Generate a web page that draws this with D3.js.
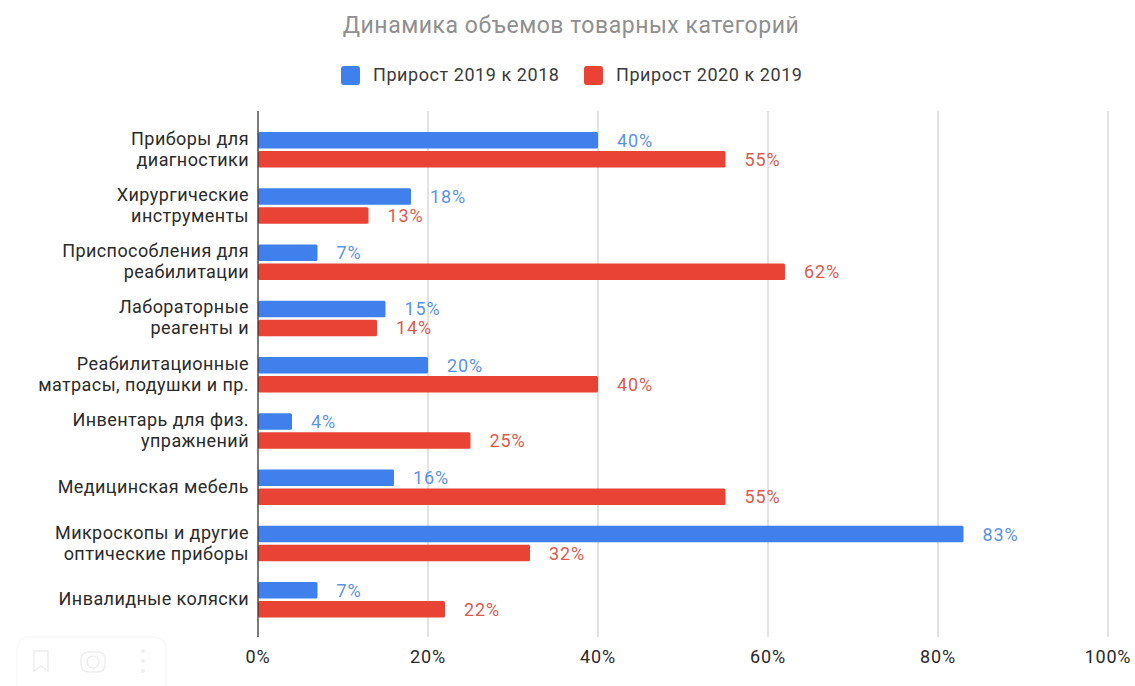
<!DOCTYPE html>
<html><head><meta charset="utf-8"><script src="https://cdn.jsdelivr.net/npm/d3@7"></script>
<style>html,body{margin:0;background:#fff}svg{display:block}text{font-family:Roboto,sans-serif}</style></head><body>
<script>
const categories=[["Приборы для","диагностики"],["Хирургические","инструменты"],["Приспособления для","реабилитации"],["Лабораторные","реагенты и"],["Реабилитационные","матрасы, подушки и пр."],["Инвентарь для физ.","упражнений"],["Медицинская мебель"],["Микроскопы и другие","оптические приборы"],["Инвалидные коляски"]];
const growth2019=[40,18,7,15,20,4,16,83,7];
const growth2020=[55,13,62,14,40,25,55,32,22];
const ticks=[0,20,40,60,80,100];
const seriesNames=["Прирост 2019 к 2018","Прирост 2020 к 2019"];
const colors=["#3f80ed","#e84335"],labelColors=["#5b93e6","#dd5a4e"];
const W=1135,H=686;
const svg=d3.select("body").append("svg").attr("width",W).attr("height",H);
const x=d3.scaleLinear().domain([0,100]).range([258,1108]);
const y=d3.scaleBand().domain(d3.range(categories.length)).range([121.5,628]);
svg.append("text").attr("x",571).attr("y",33).attr("text-anchor","middle").attr("font-size",23).attr("letter-spacing",.52).attr("fill","#8f8f8f").text("Динамика объемов товарных категорий");
const lx=[341,584];
seriesNames.forEach((n,i)=>{
 svg.append("rect").attr("x",lx[i]).attr("y",66).attr("width",19).attr("height",19).attr("rx",3).attr("fill",colors[i]);
 svg.append("text").attr("x",lx[i]+32).attr("y",81).attr("font-size",18).attr("letter-spacing",.56).attr("fill","#3a3a3a").text(n);
});
ticks.slice(1).forEach(t=>svg.append("line").attr("x1",x(t)).attr("x2",x(t)).attr("y1",111).attr("y2",637).attr("stroke","#cfcfcf").attr("stroke-width",1.2));
const bh=16.5,offs=[-9.5,9.5];
[growth2019,growth2020].forEach((vals,s)=>{
 svg.append("g").selectAll("rect").data(vals).join("rect")
  .attr("x",x(0)).attr("width",d=>x(d)-x(0)).attr("height",bh).attr("rx",1.5)
  .attr("y",(d,i)=>y(i)+y.bandwidth()/2+offs[s]-bh/2).attr("fill",colors[s]);
 svg.append("g").selectAll("text").data(vals).join("text")
  .attr("x",d=>x(d)+19).attr("y",(d,i)=>y(i)+y.bandwidth()/2+offs[s]+6.5)
  .attr("font-size",18).attr("letter-spacing",.9).attr("fill",labelColors[s]).text(d=>d+"%");
});
svg.append("line").attr("x1",258).attr("x2",258).attr("y1",111).attr("y2",637).attr("stroke","#333").attr("stroke-width",1.3);
categories.forEach((c,i)=>{
 const cy=y(i)+y.bandwidth()/2;
 c.forEach((l,j)=>svg.append("text").attr("x",249).attr("y",cy+(j-(c.length-1)/2)*21+5.5).attr("text-anchor","end").attr("font-size",18).attr("letter-spacing",.42).attr("fill","#2a2a2a").text(l));
});
ticks.forEach(t=>svg.append("text").attr("x",x(t)).attr("y",663).attr("text-anchor","middle").attr("font-size",18).attr("letter-spacing",.8).attr("fill","#2a2a2a").text(t+"%"));
// faint viewer toolbar overlaid on the picture
const tb=svg.append("g").attr("fill","none").attr("stroke","#eeeeee").attr("stroke-width",1.5);
tb.append("rect").attr("x",17).attr("y",637).attr("width",149).attr("height",60).attr("rx",12).attr("stroke","#f9f9f9");
tb.append("path").attr("d","M34 651h14v20l-7-5l-7 5z");
tb.append("circle").attr("cx",93).attr("cy",662).attr("r",6);
tb.append("rect").attr("x",81).attr("y",652).attr("width",24).attr("height",20).attr("rx",7);
[651,661,671].forEach(cy=>svg.append("circle").attr("cx",143).attr("cy",cy).attr("r",2).attr("fill","#eeeeee"));
</script></body></html>
